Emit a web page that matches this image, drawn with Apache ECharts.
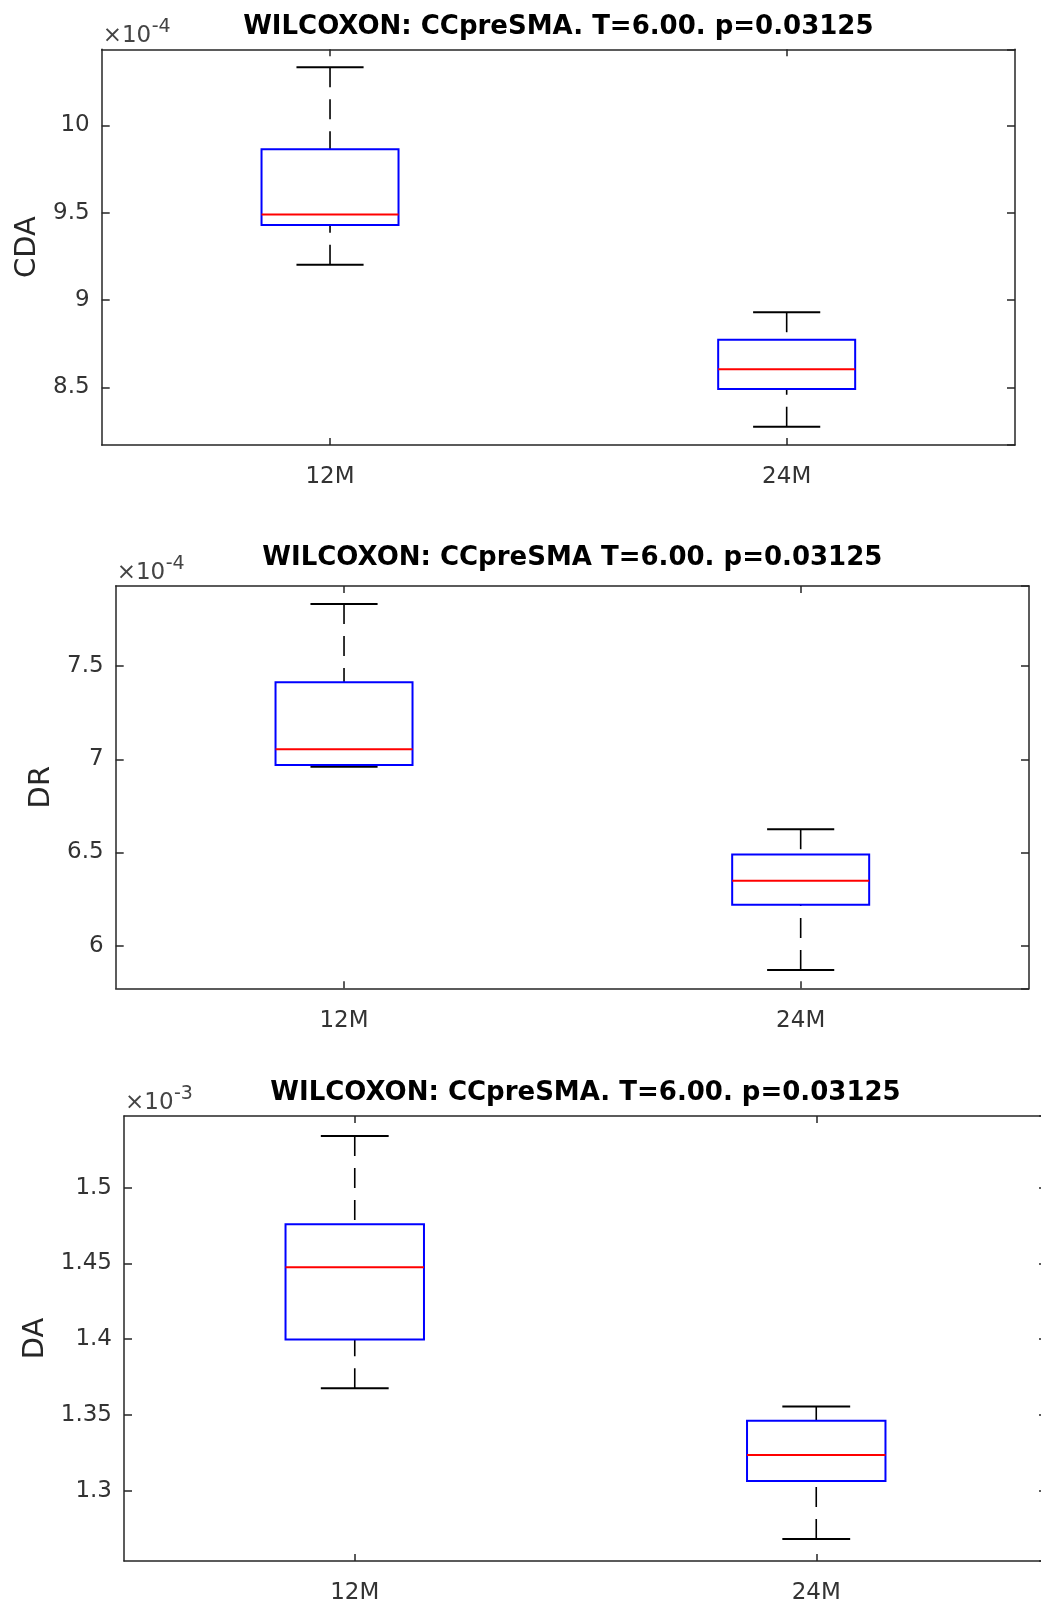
<!DOCTYPE html>
<html>
<head>
<meta charset="utf-8">
<script src="https://cdn.jsdelivr.net/npm/echarts/dist/echarts.min.js"></script>
<style>
  html, body { margin: 0; padding: 0; background: #fff; }
  #chart { width: 1041px; height: 1604px; }
</style>
</head>
<body>
<div id="chart"></div>
<script>
// ---------------- DATA ----------------
const categories = ['12M', '24M'];

// Box statistics per group: [lower whisker, Q1, median, Q3, upper whisker]
// CDA, values in units of 1e-4
const cdaStats = [
  [9.202, 9.429, 9.489, 9.863, 10.332],
  [8.275, 8.490, 8.604, 8.772, 8.930]
];
// DR, values in units of 1e-4
const drStats = [
  [6.960, 6.969, 7.054, 7.413, 7.832],
  [5.870, 6.220, 6.348, 6.489, 6.625]
];
// DA, values in units of 1e-3
const daStats = [
  [1.3676, 1.3998, 1.4474, 1.4758, 1.5341],
  [1.2681, 1.3064, 1.3236, 1.3462, 1.3555]
];

// Axis limits [min, max] (same units as above)
const cdaLimits = [8.170, 10.435];
const drLimits = [5.772, 7.929];
const daLimits = [1.2536, 1.5473];

const yNames = ['CDA', 'DR', 'DA'];
const exponents = ['-4', '-4', '-3'];
const titles = [
  'WILCOXON: CCpreSMA. T=6.00. p=0.03125',
  'WILCOXON: CCpreSMA T=6.00. p=0.03125',
  'WILCOXON: CCpreSMA. T=6.00. p=0.03125'
];

// ---------------- LAYOUT ----------------
const panels = [
  { left: 101.7, top: 49.3, width: 913.3, height: 395.7, titleY: 27 },
  { left: 115.7, top: 586, width: 913.3, height: 402.3, titleY: 558 },
  { left: 124, top: 1116, width: 923, height: 445, titleY: 1093 }
];
const statsList = [cdaStats, drStats, daStats];
const limitsList = [cdaLimits, drLimits, daLimits];

const FONT = 'DejaVu Sans';
const AXIS_COLOR = '#262626';
const LABEL_COLOR = '#333333';
const BOX_FRAC = 0.30;
const CAP_FRAC = 0.147;

function renderBox(params, api) {
  const idx = api.value(0);
  const lo = api.coord([idx, api.value(1)]);
  const q1 = api.coord([idx, api.value(2)]);
  const med = api.coord([idx, api.value(3)]);
  const q3 = api.coord([idx, api.value(4)]);
  const hi = api.coord([idx, api.value(5)]);
  const band = api.size([1, 0])[0];
  const bw = band * BOX_FRAC;
  const cw = band * CAP_FRAC;
  const cx = lo[0];
  const whiskerStyle = { stroke: '#000', lineWidth: 1.6, lineDash: [20, 12] };
  const capStyle = { stroke: '#000', lineWidth: 2 };
  return {
    type: 'group',
    children: [
      { type: 'line', shape: { x1: cx, y1: hi[1], x2: cx, y2: q3[1] }, style: whiskerStyle },
      { type: 'line', shape: { x1: cx, y1: lo[1], x2: cx, y2: q1[1] }, style: whiskerStyle },
      { type: 'line', shape: { x1: cx - cw / 2, y1: hi[1], x2: cx + cw / 2, y2: hi[1] }, style: capStyle },
      { type: 'line', shape: { x1: cx - cw / 2, y1: lo[1], x2: cx + cw / 2, y2: lo[1] }, style: capStyle },
      { type: 'rect', shape: { x: cx - bw / 2, y: q3[1], width: bw, height: q1[1] - q3[1] },
        style: { stroke: '#0000ff', fill: 'none', lineWidth: 2 } },
      { type: 'line', shape: { x1: cx - bw / 2, y1: med[1], x2: cx + bw / 2, y2: med[1] },
        style: { stroke: '#ff0000', lineWidth: 2 } }
    ]
  };
}

const grid = [], xAxis = [], yAxis = [], series = [], graphic = [];
const lineStyle = { color: AXIS_COLOR, width: 1.5 };

panels.forEach((p, i) => {
  grid.push({ left: p.left, top: p.top, width: p.width, height: p.height,
              containLabel: false, outerBoundsMode: 'none' });
  const lim = limitsList[i];
  // bottom x axis
  xAxis.push({
    type: 'category', data: categories, gridIndex: i, position: 'bottom',
    axisLine: { show: true, lineStyle },
    axisTick: { show: true, inside: true, alignWithLabel: true, length: 7, lineStyle },
    axisLabel: { margin: 21, fontFamily: FONT, fontSize: 23, color: LABEL_COLOR },
    splitLine: { show: false }
  });
  // top x axis
  xAxis.push({
    type: 'category', data: categories, gridIndex: i, position: 'top',
    axisLine: { show: true, lineStyle },
    axisTick: { show: true, inside: true, alignWithLabel: true, length: 7, lineStyle },
    axisLabel: { show: false },
    splitLine: { show: false }
  });
  // left y axis
  yAxis.push({
    type: 'value', gridIndex: i, position: 'left', min: lim[0], max: lim[1], splitNumber: 5,
    name: yNames[i], nameLocation: 'middle', nameGap: 58,
    nameTextStyle: { fontFamily: FONT, fontSize: 29, color: AXIS_COLOR },
    axisLine: { show: true, lineStyle },
    axisTick: { show: true, inside: true, length: 8, lineStyle },
    axisLabel: { showMinLabel: false, showMaxLabel: false, margin: 12, padding: [6, 0, 0, 0],
                 fontFamily: FONT, fontSize: 23, color: LABEL_COLOR },
    splitLine: { show: false }
  });
  // right y axis
  yAxis.push({
    type: 'value', gridIndex: i, position: 'right', min: lim[0], max: lim[1], splitNumber: 5,
    axisLine: { show: true, lineStyle },
    axisTick: { show: true, inside: true, length: 8, lineStyle },
    axisLabel: { show: false },
    splitLine: { show: false }
  });
  series.push({
    type: 'custom',
    xAxisIndex: 2 * i, yAxisIndex: 2 * i,
    renderItem: renderBox,
    encode: { x: 0, y: [1, 2, 3, 4, 5] },
    data: statsList[i].map((s, k) => [k].concat(s)),
    silent: true
  });
  // Title
  graphic.push({
    type: 'text', silent: true,
    x: p.left + p.width / 2, y: p.titleY,
    style: { text: titles[i], fontFamily: FONT, fontWeight: 'bold', fontSize: 26,
             fill: '#000', align: 'center', verticalAlign: 'middle' }
  });
  // exponent label
  graphic.push({
    type: 'text', silent: true,
    x: p.left + 1, y: p.top - 13,
    style: { text: '×10', fontFamily: FONT, fontSize: 23, fill: '#444', align: 'left', verticalAlign: 'middle' }
  });
  graphic.push({
    type: 'text', silent: true,
    x: p.left + 50, y: p.top - 22,
    style: { text: exponents[i], fontFamily: FONT, fontSize: 19, fill: '#444', align: 'left', verticalAlign: 'middle' }
  });
});

const chart = echarts.init(document.getElementById('chart'), null, { renderer: 'canvas' });
chart.setOption({
  animation: false,
  backgroundColor: '#ffffff',
  textStyle: { fontFamily: FONT },
  grid, xAxis, yAxis, series, graphic
});
</script>
</body>
</html>
